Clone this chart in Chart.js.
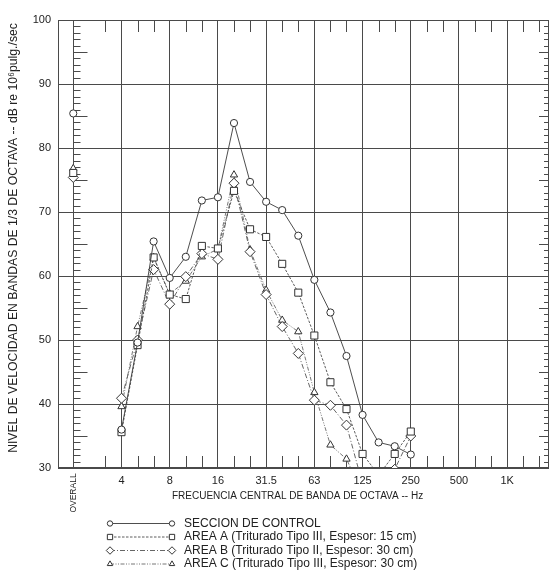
<!DOCTYPE html>
<html>
<head>
<meta charset="utf-8">
<script src="https://cdn.jsdelivr.net/npm/chart.js@4.4.1/dist/chart.umd.min.js"></script>
<style>
	html, body { margin: 0; padding: 0; background: #fff; }
	#wrap { width: 556px; height: 579px; }
</style>
</head>
<body>
<div id="wrap"><canvas id="graph" width="556" height="579"></canvas></div>
<script>
"use strict";

// 1/3 octave bands, x position = index in this list
const BANDS = ['4','5','6.3','8','10','12.5','16','20','25','31.5','40','50','63','80','100','125','160','200','250']

// octave tick positions (in band index units) and their labels
const OCTAVE_TICKS	= [-3, 0, 3, 6, 9, 12, 15, 18, 21, 24]
const OCTAVE_LABELS	= ['', '4', '8', '16', '31.5', '63', '125', '250', '500', '1K']
const OVERALL_POS	= -3

// series values (dB), one per band
const seccion_control	= [36.0, 49.6, 65.4, 59.7, 63.0, 71.8, 72.3, 83.9, 74.7, 71.6, 70.3, 66.3, 59.4, 54.3, 47.5, 38.3, 34.0, 33.4, 32.1]
const area_a			= [35.6, 49.2, 62.9, 57.1, 56.4, 64.7, 64.3, 73.3, 67.3, 66.1, 61.9, 57.4, 50.7, 43.4, 39.2, 32.2, 28.9, 32.2, 35.7]
const area_b			= [40.9, 50.0, 61.0, 55.6, 59.9, 63.5, 62.6, 74.5, 63.8, 57.1, 52.1, 47.9, 40.6, 39.8, 36.7, 27.5, 26.5, 29.8, 35.0]
const area_c			= [39.6, 52.1, 62.9, 57.2, 59.2, 63.0, 64.2, 75.8, 64.1, 57.8, 53.1, 51.3, 41.8, 33.6, 31.4, 26.0, null, null, null]

// overall levels
const overall_values	= [85.4, 76.1, 75.4, 76.8]

const series_labels = [
	'SECCION DE CONTROL',
	'AREA A (Triturado Tipo III, Espesor: 15 cm)',
	'AREA B (Triturado Tipo II, Espesor: 30 cm)',
	'AREA C (Triturado Tipo III, Espesor: 30 cm)'
]

const X_TITLE = 'FRECUENCIA CENTRAL DE BANDA DE OCTAVA -- Hz'
const Y_TITLE = 'NIVEL DE VELOCIDAD EN BANDAS DE 1/3 DE OCTAVA -- dB re 10\u2076pulg./sec'


const FONT	= "'Liberation Sans', Arial, Helvetica, sans-serif"
const INK	= '#222'
const GRID	= '#4a4a4a'

const styles = [
	{ values: seccion_control,	marker: 'circle',	radius: 3.6, dash: [],					color: '#3a3a3a' },
	{ values: area_a,			marker: 'rect',		radius: 5,   dash: [2.5, 1.5],			color: '#4a4a4a' },
	{ values: area_b,			marker: 'rectRot',	radius: 5,   dash: [5, 2, 1, 2],		color: '#555' },
	{ values: area_c,			marker: 'triangle',	radius: 4.2, dash: [4, 1.5, 1, 1.5, 1, 1.5], color: '#666' }
]


function to_points(values) {
	return values.map((v, i) => ({ x: i, y: v }))
}

function build_datasets() {
	const datasets = []
	styles.forEach((s, k) => {
		datasets.push({
			label			: series_labels[k],
			data			: to_points(s.values),
			borderColor		: s.color,
			borderWidth		: 0.9,
			borderDash		: s.dash,
			pointStyle		: s.marker,
			pointRadius		: s.radius,
			pointBorderWidth: 1,
			pointBorderColor: '#333',
			pointBackgroundColor: '#fff',
			tension			: 0,
			spanGaps		: false,
			clip			: 0
		})
		// overall point, not joined to the spectrum
		datasets.push({
			label			: series_labels[k] + ' overall',
			data			: [{ x: OVERALL_POS, y: overall_values[k] }],
			showLine		: false,
			pointStyle		: s.marker,
			pointRadius		: s.radius,
			pointBorderWidth: 1,
			pointBorderColor: '#333',
			pointBackgroundColor: '#fff'
		})
	})
	return datasets
}

// marker for the hand drawn legend (same geometry as the chart markers)
function draw_marker(ctx, marker, r, x, y) {
	ctx.beginPath()
	if (marker === 'circle') {
		ctx.arc(x, y, r, 0, Math.PI * 2)
	} else if (marker === 'rect') {
		const h = r * Math.SQRT1_2
		ctx.rect(x - h, y - h, 2 * h, 2 * h)
	} else if (marker === 'rectRot') {
		ctx.moveTo(x, y - r); ctx.lineTo(x + r, y); ctx.lineTo(x, y + r); ctx.lineTo(x - r, y)
		ctx.closePath()
	} else {
		const a = -Math.PI / 2
		for (let i = 0; i < 3; i++) {
			const t = a + i * 2 * Math.PI / 3
			if (i === 0) ctx.moveTo(x + Math.cos(t) * r, y + Math.sin(t) * r)
			else ctx.lineTo(x + Math.cos(t) * r, y + Math.sin(t) * r)
		}
		ctx.closePath()
	}
	ctx.fill()
	ctx.stroke()
}


const decorations = {
	id: 'decorations',

	beforeDatasetsDraw(chart) {
		const { ctx, chartArea: a, scales: { x, y } } = chart
		ctx.save()
		ctx.strokeStyle	= GRID
		ctx.lineWidth	= 1
		ctx.beginPath()

		// dB ticks on the overall line and on the right border
		const xo = Math.round(x.getPixelForValue(OVERALL_POS)) + 0.5
		for (let v = 31; v < 100; v++) {
			if (v % 10 === 0) continue
			const py	= Math.round(y.getPixelForValue(v)) + 0.5
			const long	= v % 5 === 0
			ctx.moveTo(xo, py);			ctx.lineTo(xo + (long ? 14 : 7), py)
			ctx.moveTo(a.right, py);	ctx.lineTo(a.right - (long ? 10 : 5), py)
		}

		// 1/3 octave ticks top and bottom
		for (let i = -1; i <= 26; i++) {
			if (i % 3 === 0) continue
			const px = Math.round(x.getPixelForValue(i)) + 0.5
			ctx.moveTo(px, a.top);		ctx.lineTo(px, a.top + 12)
			ctx.moveTo(px, a.bottom);	ctx.lineTo(px, a.bottom - 12)
		}
		ctx.stroke()

		// frame
		ctx.strokeRect(Math.round(a.left) + 0.5, Math.round(a.top) + 0.5,
			Math.round(a.right - a.left) - 1, Math.round(a.bottom - a.top) - 1)
		ctx.restore()
	},

	afterDraw(chart) {
		const { ctx, scales: { x } } = chart
		ctx.save()
		ctx.fillStyle		= INK
		ctx.textBaseline	= 'middle'

		// axis titles
		ctx.font		= '10px ' + FONT
		ctx.textAlign	= 'left'
		ctx.fillText(X_TITLE, 172, 496)

		ctx.save()
		ctx.font		= '12.2px ' + FONT
		ctx.textAlign	= 'center'
		ctx.translate(14, 238)
		ctx.rotate(-Math.PI / 2)
		ctx.fillText(Y_TITLE, 0, 0)
		ctx.restore()

		// OVERALL label
		ctx.save()
		ctx.font		= '8.5px ' + FONT
		ctx.textAlign	= 'center'
		ctx.translate(x.getPixelForValue(OVERALL_POS), 493)
		ctx.rotate(-Math.PI / 2)
		ctx.fillText('OVERALL', 0, 0)
		ctx.restore()
		ctx.restore()

		// legend
		ctx.save()
		const rows		= [523, 536.5, 550, 563.5]
		const x_text	= 184
		const x_right	= 172
		const x_left	= 110
		ctx.font			= '12px ' + FONT
		ctx.textBaseline	= 'middle'
		styles.forEach((s, k) => {
			const yy = rows[k] + 0.5
			ctx.strokeStyle	= s.color
			ctx.lineWidth	= 0.9
			ctx.setLineDash(s.dash)
			ctx.beginPath()
			ctx.moveTo(x_left, yy)
			ctx.lineTo(x_right, yy)
			ctx.stroke()
			ctx.setLineDash([])
			ctx.strokeStyle	= '#333'
			ctx.fillStyle	= '#fff'
			ctx.lineWidth	= 1
			const r = s.radius * 0.75
			draw_marker(ctx, s.marker, r, x_left, yy)
			draw_marker(ctx, s.marker, r, x_right, yy)
			ctx.fillStyle = INK
			ctx.fillText(series_labels[k], x_text, yy)
		})
		ctx.restore()
	}
}


const chart = new Chart(document.getElementById('graph'), {
	type: 'line',
	data: { datasets: build_datasets() },
	options: {
		responsive	: false,
		animation	: false,
		events		: [],
		layout		: { padding: { top: 20, right: 7, left: 0, bottom: 72 } },
		plugins		: {
			legend	: { display: false },
			tooltip	: { enabled: false }
		},
		scales: {
			x: {
				type	: 'linear',
				min		: -3.95,
				max		: 26.6,
				afterBuildTicks: (scale) => {
					scale.ticks = OCTAVE_TICKS.map(v => ({ value: v }))
				},
				afterFit: (scale) => { scale.height = 39 },
				ticks	: {
					autoSkip	: false,
					maxRotation	: 0,
					padding		: 6,
					color		: INK,
					font		: { family: FONT, size: 11 },
					callback	: (value) => {
						const i = OCTAVE_TICKS.indexOf(value)
						return i >= 0 ? OCTAVE_LABELS[i] : ''
					}
				},
				grid	: { color: GRID, lineWidth: 1, drawTicks: false },
				border	: { display: false }
			},
			y: {
				min		: 30,
				max		: 100,
				afterFit: (scale) => { scale.width = 58 },
				ticks	: {
					stepSize: 10,
					padding	: 7,
					color	: INK,
					font	: { family: FONT, size: 11 }
				},
				grid	: { color: GRID, lineWidth: 1, drawTicks: false },
				border	: { display: false }
			}
		}
	},
	plugins: [decorations]
})
</script>
</body>
</html>
